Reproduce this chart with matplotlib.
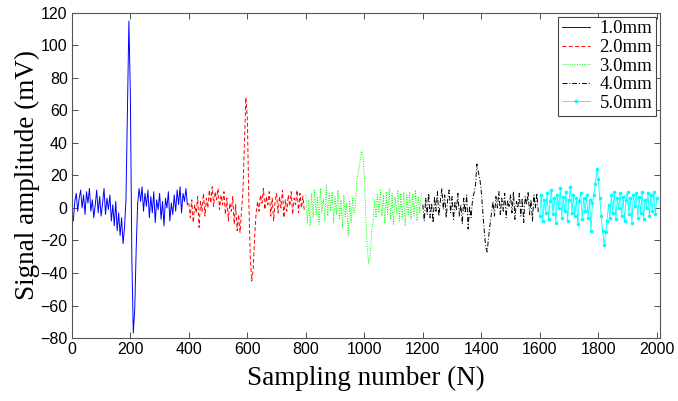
import numpy as np
import matplotlib
matplotlib.use("Agg")
import matplotlib.pyplot as plt

# Sample indices of each segment (step 5)
x1 = np.arange(0, 400, 5)
x2 = np.arange(400, 800, 5)
x3 = np.arange(800, 1200, 5)
x4 = np.arange(1200, 1600, 5)
x5 = np.arange(1600, 2001, 5)

# Signal amplitude (mV)
y1 = [-3, -8, 4, 9, -2, 6, 11, 0, 8, -4, 10, 3, 12, -2, 5, -6, 2, 11, -3, 7,
      -5, 3, 12, -4, 6, -1, 8, -8, 2, -11, 4, -14, -3, -17, -6, -22, -12, 5, 60, 115,
      70, -30, -77, -62, -25, 3, 12, 4, 13, -2, 9, 1, 11, -6, 7, -3, 10, -9, 5, -1,
      9, -7, 4, -11, 6, 0, 10, -8, 3, -4, 8, -2, 11, 2, 13, -3, 9, 4, 12, 2]
y2 = [3, -6, 5, -9, 2, -3, 7, -12, 4, -2, 9, -5, 6, 0, 11, 3, 13, 1, 10, 5,
      12, -1, 8, 2, 10, -4, 6, -8, 3, -2, 7, -10, 2, -14, -4, -15, -2, 10, 40, 68,
      55, 5, -30, -45, -38, -18, -3, 4, -2, 8, 3, 12, -1, 7, 2, 10, -5, 6, -8, 4,
      9, -3, 7, 0, 11, -6, 5, -2, 8, 1, 10, -4, 6, 2, 11, -3, 9, 0, 7, -2]
y3 = [8, -9, 5, -11, 9, -6, 11, -4, 7, -10, 12, -3, 6, -8, 14, -5, 9, -2, 10, -9,
      7, -4, 11, -7, 5, -12, 8, -6, 3, -17, 4, -9, 6, -3, 2, 18, 22, 28, 35, 32,
      20, -5, -25, -34, -28, -15, -8, 5, -6, 9, -3, 11, -5, 8, -9, 10, -4, 12, -7, 9,
      -10, 7, -3, 11, -8, 9, -6, 10, -11, 8, -4, 10, -7, 9, -5, 11, -8, 7, -3, 9]
y4 = [2, -8, 6, -4, 9, -6, 3, -9, 7, -2, 10, -5, 4, 12, -1, 8, -6, 5, 11, -3,
      7, -7, 4, -1, 9, -5, 2, -10, 6, -3, 8, -13, 1, -6, 5, 9, 14, 27, 22, 18,
      10, -2, -14, -24, -27, -18, -10, -3, 4, -5, 7, 0, 10, -4, 6, -2, 9, -6, 5, 1,
      8, -3, 10, -7, 4, 0, 9, -5, 6, -9, 7, 2, 10, -4, 5, -8, 8, 0, 9, -3]
y5 = [-5, 8, -8, 5, -3, 9, -7, 4, 11, -4, 6, -9, 8, 0, 12, -6, 7, -2, 10, -8,
      5, 13, -3, 8, -5, 6, -10, 4, 9, -7, 6, -2, 8, -6, 5, -14, 3, 8, 15, 24,
      18, 6, -5, -14, -23, -15, -8, 2, -6, 8, -3, 10, -7, 6, 0, 9, -5, 7, -8, 5,
      10, -4, 6, -9, 8, 1, 9, -6, 7, -3, 10, -7, 5, 0, 9, -5, 8, -2, 10, -4, 6]

labels = ["1.0mm", "2.0mm", "3.0mm", "4.0mm", "5.0mm"]

fig = plt.figure(figsize=(6.78, 4.01), dpi=100)
ax = fig.add_axes([0.106, 0.157, 0.867, 0.811])

lw = 0.7
ax.plot(x1, y1, color=(0, 0, 1), lw=lw, ls='-', label=labels[0])
ax.plot(x2, y2, color=(1, 0, 0), lw=lw, ls=(0, (4, 2.5)), label=labels[1])
ax.plot(x3, y3, color=(0, 1, 0), lw=lw, ls=(0, (1, 1.5)), label=labels[2])
ax.plot(x4, y4, color=(0, 0, 0), lw=lw, ls=(0, (5, 2, 1, 2)), label=labels[3])
ax.plot(x5, y5, color=(0, 1, 1), lw=0.6, ls='-', marker='.', markersize=3.2,
        label=labels[4])

ax.set_xlim(0, 2010)
ax.set_ylim(-80, 120)
ax.set_xticks(np.arange(0, 2001, 200))
ax.set_yticks(np.arange(-80, 121, 20))

tick_font = dict(family=['Liberation Sans', 'DejaVu Sans'], size=11.5)
for lab in ax.get_xticklabels() + ax.get_yticklabels():
    lab.set_fontfamily(tick_font['family'])
    lab.set_fontsize(tick_font['size'])

ax.tick_params(direction='in', top=True, right=True, length=4, width=0.6,
               colors='#333333', labelcolor='black', pad=3)
for s in ax.spines.values():
    s.set_color('#555555')
    s.set_linewidth(0.8)

serif = ['Liberation Serif', 'DejaVu Serif']
ax.set_xlabel("Sampling number (N)", fontfamily=serif, fontsize=19.5, labelpad=6)
ax.set_ylabel("Signal amplitude (mV)", fontfamily=serif, fontsize=19.5, labelpad=0)

leg = ax.legend(loc='upper right', prop={'family': serif, 'size': 13.5},
                fancybox=False, framealpha=1, edgecolor='#444444',
                handlelength=1.5, handletextpad=0.5, labelspacing=0.08,
                borderpad=0.2, borderaxespad=0.2)
leg.get_frame().set_linewidth(0.8)

fig.savefig("out.png", dpi=100)
